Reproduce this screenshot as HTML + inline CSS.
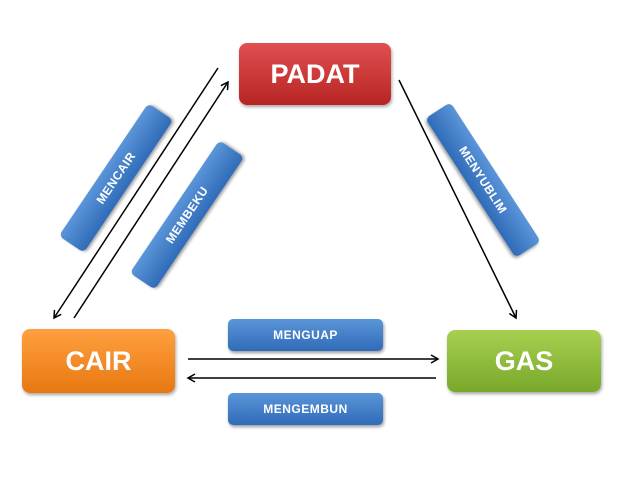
<!DOCTYPE html>
<html><head><meta charset="utf-8"><style>
body{margin:0;width:638px;height:479px;background:#fff;position:relative;overflow:hidden;font-family:"Liberation Sans",sans-serif}
.n{position:absolute;border-radius:8px;color:#fff;font-weight:bold;font-size:27px;display:flex;align-items:center;justify-content:center;box-shadow:1px 2px 3px rgba(0,0,0,.35)}
.l{position:absolute;border-radius:5px;color:#fff;font-weight:bold;font-size:12px;display:flex;align-items:center;justify-content:center;background:linear-gradient(#5b95d9,#2f6bb8);box-shadow:1px 2px 3px rgba(0,0,0,.4);letter-spacing:.5px}
</style></head><body>
<svg width="638" height="479" style="position:absolute;left:0;top:0">
<defs><marker id="a" markerWidth="10" markerHeight="10" refX="8" refY="5" orient="auto" markerUnits="userSpaceOnUse"><path d="M1,1 L8,5 L1,9" fill="none" stroke="#000" stroke-width="1.5"/></marker></defs>
<g stroke="#000" stroke-width="1.5" fill="none">
<line x1="218" y1="68" x2="54" y2="318" marker-end="url(#a)"/>
<line x1="74" y1="318" x2="228" y2="82" marker-end="url(#a)"/>
<line x1="399" y1="80" x2="516" y2="318" marker-end="url(#a)"/>
<line x1="188" y1="359" x2="438" y2="359" marker-end="url(#a)"/>
<line x1="436" y1="378" x2="188" y2="378" marker-end="url(#a)"/>
</g></svg>
<div class="n" style="left:239px;top:43px;width:152px;height:62px;background:linear-gradient(#e05050,#b82424)">PADAT</div>
<div class="n" style="left:22px;top:329px;width:153px;height:64px;background:linear-gradient(#ffa040,#e87810)">CAIR</div>
<div class="n" style="left:447px;top:330px;width:154px;height:62px;background:linear-gradient(#a8d050,#78a82a)">GAS</div>
<div class="l" style="left:228px;top:319px;width:155px;height:32px">MENGUAP</div>
<div class="l" style="left:228px;top:393px;width:155px;height:32px">MENGEMBUN</div>
<div class="l" style="left:36px;top:163px;width:160px;height:30px;transform:rotate(-56deg)">MENCAIR</div>
<div class="l" style="left:107px;top:200px;width:160px;height:30px;transform:rotate(-56deg)">MEMBEKU</div>
<div class="l" style="left:400px;top:165px;width:166px;height:30px;transform:rotate(57deg)">MENYUBLIM</div>
</body></html>
